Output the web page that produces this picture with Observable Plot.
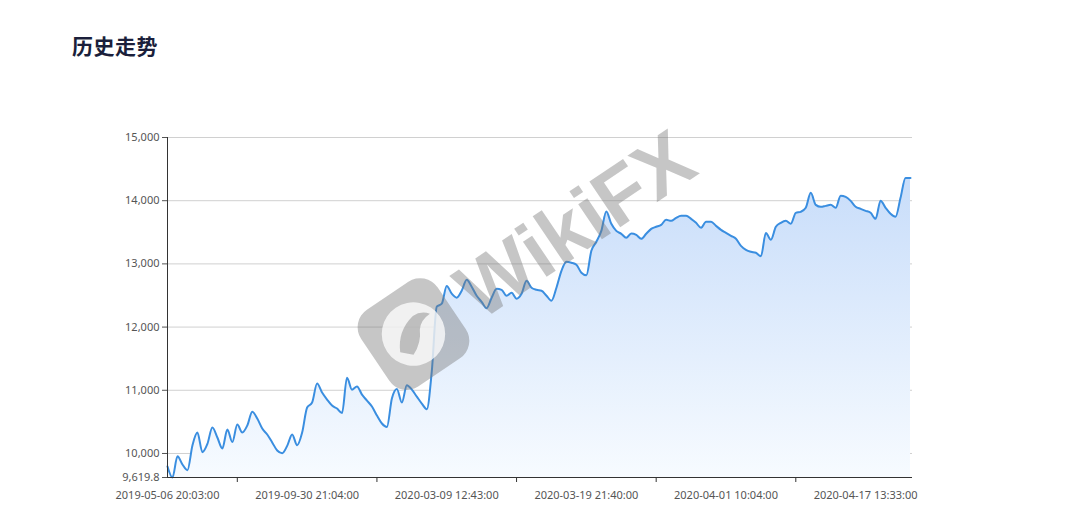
<!DOCTYPE html>
<html>
<head>
<meta charset="utf-8">
<script src="https://cdn.jsdelivr.net/npm/d3@7"></script>
<script src="https://cdn.jsdelivr.net/npm/@observablehq/plot@0.6"></script>
<style>
  html, body { margin: 0; padding: 0; background: #fff; }
  #wrap { position: relative; width: 1080px; height: 515px; overflow: hidden; }
  #title { position: absolute; left: 72px; top: 30px; font-family: "Noto Sans CJK SC", "Noto Sans", sans-serif; font-weight: 700; font-size: 21px; color: #1b1f3b; letter-spacing: 0.5px; }
  #chart { position: absolute; left: 0; top: 90px; }
  #wm { position: absolute; left: 372px; top: 312px; transform: rotate(-34deg); transform-origin: 0 50%; display: flex; align-items: center; pointer-events: none; }
  #wm span { font-family: "Liberation Sans", Arial, sans-serif; font-weight: 700; font-size: 80px; color: rgba(120,120,120,0.42); margin-left: 12px; line-height: 1; }
</style>
</head>
<body>
<div id="wrap">
  <div id="title">历史走势</div>
  <div id="chart"></div>
  <div id="wm">
    <svg width="100" height="100" viewBox="0 0 104 104">
      <rect x="4" y="4" width="96" height="96" rx="22" fill="rgba(120,120,120,0.42)"/>
      <circle cx="52" cy="52" r="33" fill="rgba(255,255,255,0.75)"/>
      <path d="M30 60 Q40 40 62 36 Q72 36 78 44 Q66 44 60 52 Q54 64 40 70 Z" fill="rgba(120,120,120,0.42)"/>
    </svg>
    <span>WikiFX</span>
  </div>
</div>
<script>
// Values (one per category step)
const values = [
  9795, 9620, 9955, 9826, 9735, 10126, 10330, 10020, 10150, 10411,
  10253, 10079, 10379, 10180, 10458, 10332, 10442, 10660, 10553, 10395,
  10300, 10174, 10047, 10005, 10120, 10300, 10130, 10330, 10727, 10806,
  11106, 10964, 10853, 10758, 10711, 10640, 11200, 11010, 11060, 10932,
  10837, 10743, 10600, 10474, 10420, 10869, 11020, 10806, 11080, 11010,
  10900, 10790, 10700, 11300, 12322, 12370, 12650, 12528, 12465, 12575,
  12750, 12639, 12496, 12400, 12300, 12465, 12607, 12590, 12496, 12544,
  12450, 12528, 12733, 12623, 12590, 12575, 12496, 12417, 12623, 12890,
  13034, 13018, 12986, 12860, 12820, 13207, 13350, 13523, 13830, 13634,
  13523, 13476, 13413, 13480, 13460, 13397, 13476, 13555, 13587, 13618,
  13697, 13681, 13729, 13760, 13760, 13713, 13650, 13571, 13666, 13666,
  13602, 13539, 13492, 13444, 13397, 13286, 13223, 13192, 13176, 13120,
  13490, 13381, 13587, 13650, 13681, 13634, 13808, 13824, 13887, 14124,
  13934, 13903, 13918, 13934, 13887, 14080, 14061, 13997, 13903, 13871,
  13840, 13808, 13713, 14000, 13887, 13792, 13745, 14045, 14361, 14361
];
const xLabels = [
  "2019-05-06 20:03:00", "2019-09-30 21:04:00", "2020-03-09 12:43:00",
  "2020-03-19 21:40:00", "2020-04-01 10:04:00", "2020-04-17 13:33:00"
];
const xLabelIndex = [0, 28, 56, 84, 112, 140];
const xTickIndex = [14, 42, 70, 98, 126];
const yMin = 9619.8;
const yMax = 15000;
const yTicks = [9619.8, 10000, 11000, 12000, 13000, 14000, 15000];
const yGrid = [10000, 11000, 12000, 13000, 14000, 15000];

const data = values.map((v, i) => ({i, v}));
const fmt = d3.format(",");
const n = values.length;

const chart = Plot.plot({
  width: 1080,
  height: 425,
  marginLeft: 167,
  marginRight: 168,
  marginTop: 47,
  marginBottom: 38,
  style: {fontFamily: "'Noto Sans', 'Liberation Sans', sans-serif", fontSize: "11px", background: "transparent"},
  x: {domain: [0, (n - 1) * 745 / 743], axis: null, label: null},
  y: {domain: [yMin, yMax], axis: null, label: null},
  marks: [
    Plot.ruleY(yGrid, {stroke: "#d0d0d0", strokeWidth: 1}),
    Plot.areaY(data, {x: "i", y1: yMin, y2: "v", fill: "url(#areaGrad)", curve: "monotone-x"}),
    Plot.lineY(data, {x: "i", y: "v", stroke: "#3a8ee0", strokeWidth: 2, curve: "monotone-x"}),
    Plot.ruleX([0], {stroke: "#333", strokeWidth: 1}),
    Plot.ruleY([yMin], {stroke: "#333", strokeWidth: 1}),
    Plot.axisY(yTicks, {anchor: "left", label: null, tickSize: 5, tickPadding: 3, color: "#555",
      tickFormat: d => d === yMin ? "9,619.8" : fmt(d), fontSize: 11}),
    Plot.axisX(xTickIndex, {anchor: "bottom", label: null, tickSize: 5, tickFormat: () => "", color: "#333"}),
    Plot.axisX(xLabelIndex, {anchor: "bottom", label: null, tickSize: 0, tickPadding: 14, color: "#555", fontSize: 11,
      tickFormat: (d) => xLabels[xLabelIndex.indexOf(d)]})
  ]
});

const ns = "http://www.w3.org/2000/svg";
const defs = document.createElementNS(ns, "defs");
const grad = document.createElementNS(ns, "linearGradient");
grad.setAttribute("id", "areaGrad");
grad.setAttribute("x1", "0"); grad.setAttribute("y1", "0");
grad.setAttribute("x2", "0"); grad.setAttribute("y2", "1");
[["0", "#c8ddfa"], ["1", "#f7fbff"]].forEach(([o, c]) => {
  const s = document.createElementNS(ns, "stop");
  s.setAttribute("offset", o); s.setAttribute("stop-color", c);
  grad.appendChild(s);
});
defs.appendChild(grad);
chart.insertBefore(defs, chart.firstChild);
document.getElementById("chart").appendChild(chart);
</script>
</body>
</html>
